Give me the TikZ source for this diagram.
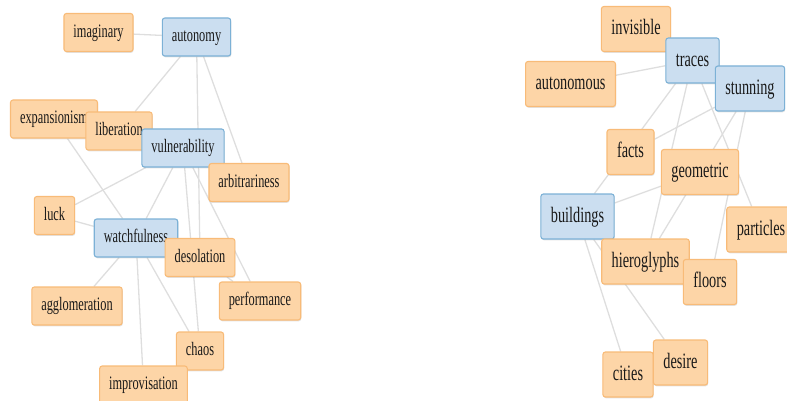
\documentclass[tikz,border=0pt]{standalone}
\usepackage{fontspec}
\setmainfont{Liberation Serif}[FakeStretch=0.65]
\usetikzlibrary{backgrounds,shadows}

\definecolor{termfill}{RGB}{253,213,167}
\definecolor{termdraw}{RGB}{248,187,120}
\definecolor{hubfill}{RGB}{203,222,240}
\definecolor{hubdraw}{RGB}{124,177,214}
\definecolor{linkgray}{RGB}{222,222,222}

\tikzset{
  term/.style={rectangle, rounded corners=2.5pt, draw=termdraw, fill=termfill,
    line width=1.1pt, text=black!90,
    drop shadow={shadow xshift=0.6pt, shadow yshift=-1.3pt, opacity=0.25, fill=black!45}},
  hub/.style={draw=hubdraw, fill=hubfill},
  leftsize/.style={font=\fontsize{19}{19}\selectfont, minimum height=38pt,
    inner xsep=9.5pt, text height=13pt, text depth=3.5pt},
  rightsize/.style={font=\fontsize{22}{22}\selectfont, minimum height=45pt,
    inner xsep=10pt, text height=15.5pt, text depth=4pt},
}

\begin{document}
\begin{tikzpicture}[x=1pt, y=-1pt]
  \useasboundingbox (0,0) rectangle (787,401);
  % left word cloud
  \begin{scope}[every node/.style={term, leftsize}]
    \node (imaginary) at (98.5,32.5) {imaginary};
    \node[hub] (autonomy) at (196.5,37) {autonomy};
    \node (expansionism) at (54,119) {expansionism};
    \node (liberation) at (119,131) {liberation};
    \node[hub] (vulnerability) at (183,148) {vulnerability};
    \node (arbitrariness) at (249,182.5) {arbitrariness};
    \node (luck) at (54.5,215.5) {luck};
    \node[hub] (watchfulness) at (136,238) {watchfulness};
    \node (desolation) at (200,257.5) {desolation};
    \node (agglomeration) at (77,306) {agglomeration};
    \node (performance) at (260,301) {performance};
    \node (chaos) at (200,351) {chaos};
    \node (improvisation) at (143.5,385) {improvisation};
  \end{scope}
  % right word cloud
  \begin{scope}[every node/.style={term, rightsize}]
    \node (invisible) at (636,29) {invisible};
    \node[hub] (traces) at (692.5,60.5) {traces};
    \node (autonomous) at (570.5,84) {autonomous};
    \node[hub] (stunning) at (750,88.5) {stunning};
    \node (facts) at (630.5,152) {facts};
    \node (geometric) at (700,172) {geometric};
    \node[hub] (buildings) at (577.5,216.5) {buildings};
    \node (particles) at (761,229.5) {particles};
    \node (hieroglyphs) at (645.5,261.5) {hieroglyphs};
    \node (floors) at (710,282) {floors};
    \node (cities) at (628,374.5) {cities};
    \node (desire) at (680.5,362.5) {desire};
  \end{scope}
  \begin{scope}[on background layer,
      every edge/.style={draw=linkgray, line width=1.3pt}]
    \path (imaginary) edge (autonomy);
    \path (autonomy) edge (liberation);
    \path (autonomy) edge (desolation);
    \path (autonomy) edge (arbitrariness);
    \path (expansionism) edge (watchfulness);
    \path (vulnerability) edge (luck);
    \path (vulnerability) edge (watchfulness);
    \path (vulnerability) edge (chaos);
    \path (vulnerability) edge (performance);
    \path (luck) edge (watchfulness);
    \path (watchfulness) edge (agglomeration);
    \path (watchfulness) edge (improvisation);
    \path (watchfulness) edge (chaos);
    \path (desolation) edge (performance);
    \path (autonomous) edge (traces);
    \path (traces) edge (buildings);
    \path (traces) edge (hieroglyphs);
    \path (traces) edge (particles);
    \path (stunning) edge (facts);
    \path (stunning) edge (hieroglyphs);
    \path (stunning) edge (floors);
    \path (buildings) edge (geometric);
    \path (buildings) edge (desire);
    \path (buildings) edge (cities);
  \end{scope}
\end{tikzpicture}
\end{document}
